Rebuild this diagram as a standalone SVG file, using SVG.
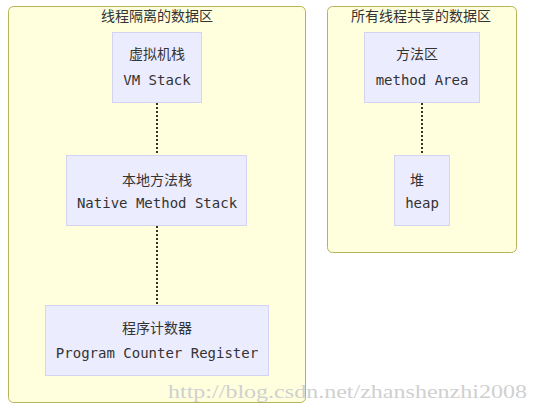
<svg xmlns="http://www.w3.org/2000/svg" width="539" height="412" viewBox="0 0 539 412">
<style>
.cluster{fill:#ffffde;stroke:#b5b558;stroke-width:1}
.node{fill:#ececff;stroke:#d4d4f2;stroke-width:1}
.ctitle{font-family:"Noto Sans CJK SC","Liberation Sans",sans-serif;font-size:14px;fill:#333;text-anchor:middle}
.zh{font-family:"Noto Sans CJK SC","Liberation Sans",sans-serif;font-size:14px;fill:#333;text-anchor:middle}
.en{font-family:"DejaVu Sans Mono","Liberation Mono",monospace;font-size:14px;fill:#333;text-anchor:middle}
.edge{stroke:#333;stroke-width:2;stroke-dasharray:2,2;fill:none}
.wm{font-family:"Liberation Serif",serif;font-size:18px;fill:#d0d0d0}
</style>
<rect width="539" height="412" fill="#ffffff"/>
<g id="cluster-isolated">
<rect class="cluster" x="8.5" y="6.5" width="297" height="396" rx="5"/>
<text class="ctitle" x="157" y="21">线程隔离的数据区</text>
</g>
<g id="cluster-shared">
<rect class="cluster" x="327.5" y="6.5" width="189" height="246" rx="5"/>
<text class="ctitle" x="421" y="21">所有线程共享的数据区</text>
</g>
<g id="connectors">
<line class="edge" x1="157" y1="103" x2="157" y2="155"/>
<line class="edge" x1="157" y1="226" x2="157" y2="305"/>
<line class="edge" x1="422" y1="103" x2="422" y2="155"/>
</g>
<g id="vmstack">
<rect class="node" x="112.5" y="32.5" width="89" height="70"/>
<text class="zh" x="157" y="59">虚拟机栈</text>
<text class="en" x="157" y="85">VM Stack</text>
</g>
<g id="native">
<rect class="node" x="66.5" y="155.5" width="180" height="70"/>
<text class="zh" x="157" y="185">本地方法栈</text>
<text class="en" x="157" y="208">Native Method Stack</text>
</g>
<g id="pcr">
<rect class="node" x="45.5" y="305.5" width="223" height="70"/>
<text class="zh" x="157" y="333">程序计数器</text>
<text class="en" x="157" y="358">Program Counter Register</text>
</g>
<g id="methodarea">
<rect class="node" x="364.5" y="32.5" width="115" height="70"/>
<text class="zh" x="417" y="59">方法区</text>
<text class="en" x="422" y="85">method Area</text>
</g>
<g id="heap">
<rect class="node" x="394.5" y="155.5" width="55" height="70"/>
<text class="zh" x="417" y="185">堆</text>
<text class="en" x="422" y="208">heap</text>
</g>
<text class="wm" x="168" y="398" textLength="359" lengthAdjust="spacingAndGlyphs">http://blog.csdn.net/zhanshenzhi2008</text>
</svg>
